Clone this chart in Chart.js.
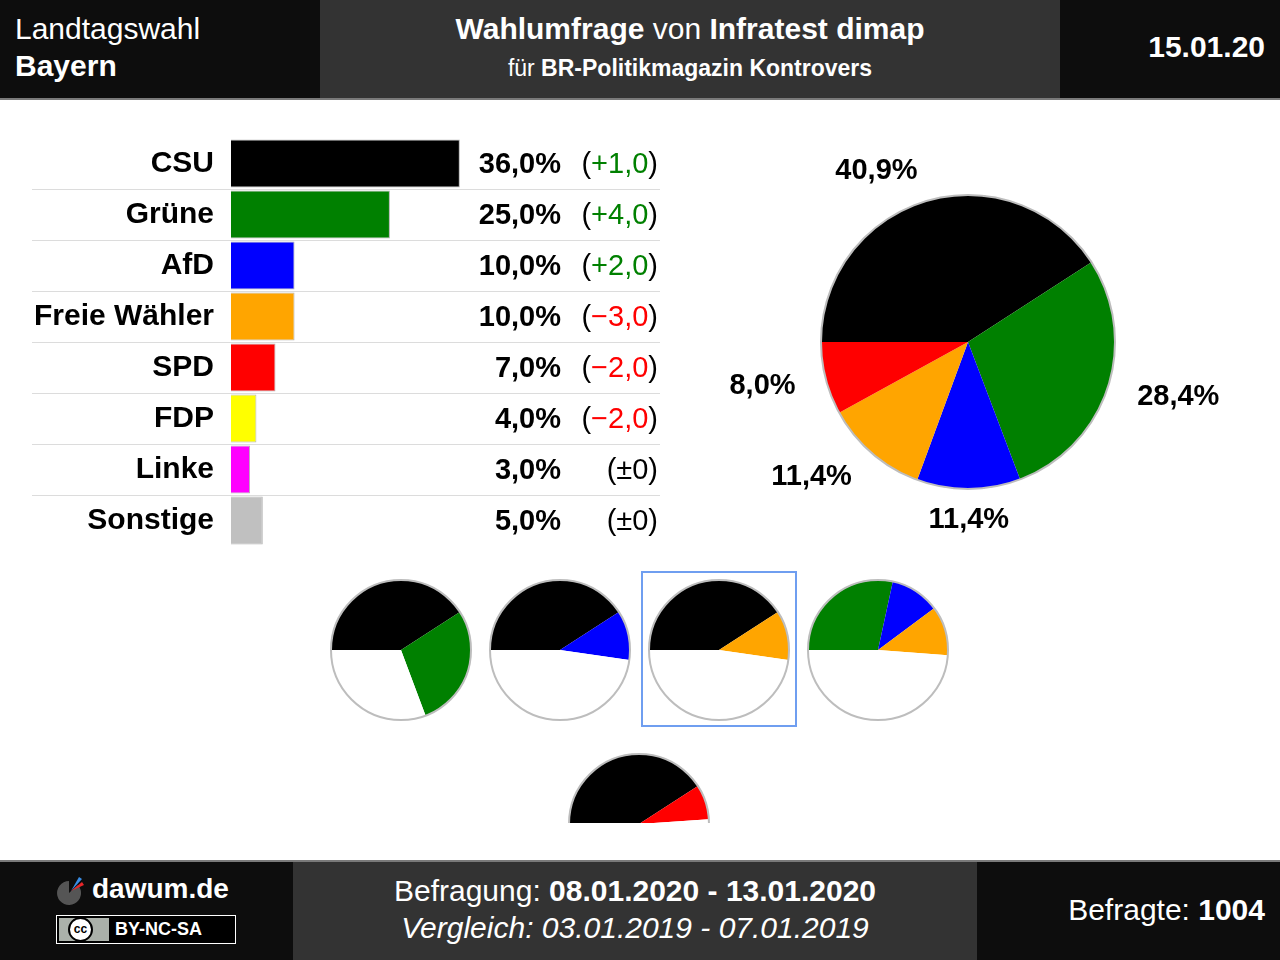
<!DOCTYPE html>
<html>
<head>
<meta charset="utf-8">
<script src="https://cdn.jsdelivr.net/npm/chart.js@4/dist/chart.umd.min.js"></script>
<style>
  body { margin: 0; width: 1280px; height: 960px; background: #fff; position: relative; overflow: hidden;
         font-family: "Liberation Sans", Arial, sans-serif; }
  .blk { position: absolute; color: #fff; }
  .dark { background: #0d0d0d; }
  .mid { background: #333; }
  .line { position: absolute; left: 0; width: 1280px; height: 2px; background: #7a7a7a; }
  .txt { position: absolute; white-space: nowrap; }
  b { font-weight: bold; }
  canvas { position: absolute; }
</style>
</head>
<body>
<!-- header -->
<div class="blk dark" style="left:0;top:0;width:320px;height:98px;">
  <div class="txt" style="left:15px;top:12px;font-size:30px;">Landtagswahl</div>
  <div class="txt" style="left:15px;top:49px;font-size:30px;font-weight:bold;">Bayern</div>
</div>
<div class="blk mid" style="left:320px;top:0;width:740px;height:98px;">
  <div class="txt" style="left:0;width:740px;text-align:center;top:12px;font-size:30px;"><b>Wahlumfrage</b> von <b>Infratest dimap</b></div>
  <div class="txt" style="left:0;width:740px;text-align:center;top:55px;font-size:23px;">für <b>BR-Politikmagazin Kontrovers</b></div>
</div>
<div class="blk dark" style="left:1060px;top:0;width:220px;height:98px;">
  <div class="txt" style="right:15px;top:30px;font-size:30px;font-weight:bold;">15.01.20</div>
</div>
<div class="line" style="top:98px;"></div>

<!-- charts (bar canvas is 70px taller: the y axis keeps 35px label padding on each end) -->
<canvas id="barChart" width="676" height="478" style="left:0;top:103px;"></canvas>
<canvas id="seatChart" width="536" height="404" style="left:700px;top:140px;"></canvas>
<div id="coalBox" style="position:absolute;left:0;top:560px;width:1280px;height:263px;overflow:hidden;"></div>

<!-- footer -->
<div class="line" style="top:860px;"></div>
<div class="blk dark" style="left:0;top:862px;width:293px;height:98px;">
  <svg style="position:absolute;left:52px;top:12px;" width="36" height="36" viewBox="0 0 36 36">
    <path d="M17 19 L26 11 A12 12 0 1 1 17 7 Z" fill="#555"/>
    <path d="M19 17 L27 3 L30 5 Z" fill="#3a8ee6"/>
    <path d="M19 17 L30 8 L32 11 Z" fill="#e8262a"/>
  </svg>
  <div class="txt" style="left:92px;top:11px;font-size:28px;font-weight:bold;">dawum.de</div>
  <div style="position:absolute;left:56px;top:53px;width:178px;height:27px;border:1px solid #fff;background:#000;">
    <div style="position:absolute;left:2px;top:2px;width:50px;height:23px;background:#abb1aa;"></div>
    <div style="position:absolute;left:11px;top:1px;width:21px;height:21px;border:2px solid #000;border-radius:50%;background:#fff;color:#000;font-size:12px;font-weight:bold;text-align:center;line-height:21px;">cc</div>
    <div class="txt" style="left:58px;top:3px;font-size:18px;font-weight:bold;color:#fff;">BY-NC-SA</div>
  </div>
</div>
<div class="blk mid" style="left:293px;top:862px;width:684px;height:98px;">
  <div class="txt" style="left:0;width:684px;text-align:center;top:12px;font-size:30px;">Befragung: <b>08.01.2020 - 13.01.2020</b></div>
  <div class="txt" style="left:0;width:684px;text-align:center;top:49px;font-size:30px;font-style:italic;">Vergleich: 03.01.2019 - 07.01.2019</div>
</div>
<div class="blk dark" style="left:977px;top:862px;width:303px;height:98px;">
  <div class="txt" style="right:15px;top:31px;font-size:30px;">Befragte: <b>1004</b></div>
</div>

<script>
  // poll results
  const parties = ['CSU', 'Grüne', 'AfD', 'Freie Wähler', 'SPD', 'FDP', 'Linke', 'Sonstige'];
  const results = [36, 25, 10, 10, 7, 4, 3, 5];
  const changes = [1, 4, 2, -3, -2, -2, 0, 0];
  const partyColors = ['#000000', '#008000', '#0000ff', '#ffa500', '#ff0000', '#ffff00', '#ff00ff', '#c0c0c0'];

  // seat distribution
  const seatParties = ['CSU', 'Grüne', 'AfD', 'Freie Wähler', 'SPD'];
  const seatShares = [40.9, 28.4, 11.4, 11.4, 8.0];

  // coalitions shown as small pies
  const coalitions = [
    ['CSU', 'Grüne'],
    ['CSU', 'AfD'],
    ['CSU', 'Freie Wähler'],
    ['Grüne', 'AfD', 'Freie Wähler'],
    ['CSU', 'SPD']
  ];
  const highlighted = 2;

  const FONT = '"Liberation Sans", Arial, sans-serif';
  const fmt = v => v.toFixed(1).replace('.', ',');
  const colorOf = p => partyColors[parties.indexOf(p)];

  Chart.defaults.color = '#000';
  Chart.defaults.font.family = FONT;

  // row lines + value/change texts
  const barTexts = {
    id: 'barTexts',
    beforeDatasetsDraw(chart) {
      const ctx = chart.ctx;
      const y = chart.scales.y;
      ctx.save();
      ctx.strokeStyle = '#dcdcdc';
      ctx.lineWidth = 1;
      for (let i = 0; i < parties.length - 1; i++) {
        const yy = Math.round((y.getPixelForValue(i) + y.getPixelForValue(i + 1)) / 2) + 0.5;
        ctx.beginPath();
        ctx.moveTo(32, yy);
        ctx.lineTo(660, yy);
        ctx.stroke();
      }
      ctx.restore();
    },
    afterDatasetsDraw(chart) {
      const ctx = chart.ctx;
      const y = chart.scales.y;
      ctx.save();
      ctx.textBaseline = 'middle';
      parties.forEach((p, i) => {
        const yy = y.getPixelForValue(i) + 1;
        ctx.font = 'bold 29px ' + FONT;
        ctx.fillStyle = '#000';
        ctx.textAlign = 'right';
        ctx.fillText(fmt(results[i]) + '%', 561, yy);

        const c = changes[i];
        let inner, col;
        if (c > 0) { inner = '+' + fmt(c); col = '#008000'; }
        else if (c < 0) { inner = '\u2212' + fmt(-c); col = '#ff0000'; }
        else { inner = '±0'; col = '#000'; }
        ctx.font = '29px ' + FONT;
        let x = 658;
        ctx.fillStyle = '#000';
        ctx.fillText(')', x, yy);
        x -= ctx.measureText(')').width;
        ctx.fillStyle = col;
        ctx.fillText(inner, x, yy);
        x -= ctx.measureText(inner).width;
        ctx.fillStyle = '#000';
        ctx.fillText('(', x, yy);
      });
      ctx.restore();
    }
  };

  new Chart(document.getElementById('barChart'), {
    type: 'bar',
    data: {
      labels: parties,
      datasets: [{
        data: results,
        backgroundColor: partyColors,
        borderColor: '#b4b4b4',
        borderWidth: 1,
        barPercentage: 0.94,
        categoryPercentage: 1
      }]
    },
    options: {
      indexAxis: 'y',
      responsive: false,
      maintainAspectRatio: false,
      animation: false,
      layout: { padding: 0 },
      plugins: { legend: { display: false }, tooltip: { enabled: false } },
      scales: {
        x: { display: false, min: 0, max: 70 },
        y: {
          grid: { display: false, drawTicks: false },
          border: { display: false },
          ticks: { padding: 17, font: { size: 30, weight: 'bold', family: FONT }, color: '#000' },
          afterFit(scale) { scale.width = 231; }
        }
      }
    },
    plugins: [barTexts]
  });

  // gray ring round a pie
  const pieRing = {
    id: 'pieRing',
    afterDatasetsDraw(chart) {
      const arc = chart.getDatasetMeta(0).data[0];
      if (!arc) return;
      const ctx = chart.ctx;
      ctx.save();
      ctx.strokeStyle = '#bdbdbd';
      ctx.lineWidth = 2;
      ctx.beginPath();
      ctx.arc(arc.x, arc.y, arc.outerRadius, 0, Math.PI * 2);
      ctx.stroke();
      ctx.restore();
    }
  };

  // percentage labels outside the seat pie
  const seatLabels = {
    id: 'seatLabels',
    afterDatasetsDraw(chart) {
      const ctx = chart.ctx;
      ctx.save();
      ctx.font = 'bold 29px ' + FONT;
      ctx.fillStyle = '#000';
      ctx.textBaseline = 'middle';
      chart.getDatasetMeta(0).data.forEach((arc, i) => {
        const mid = (arc.startAngle + arc.endAngle) / 2;
        const d = arc.outerRadius + 31;
        const cx = Math.cos(mid), sy = Math.sin(mid);
        ctx.textAlign = cx > 0.15 ? 'left' : (cx < -0.15 ? 'right' : 'center');
        ctx.fillText(fmt(seatShares[i]) + '%', arc.x + cx * d, arc.y + sy * d);
      });
      ctx.restore();
    }
  };

  new Chart(document.getElementById('seatChart'), {
    type: 'pie',
    data: {
      labels: seatParties,
      datasets: [{ data: seatShares, backgroundColor: seatParties.map(colorOf), borderWidth: 0 }]
    },
    options: {
      responsive: false,
      maintainAspectRatio: false,
      animation: false,
      rotation: -90,
      layout: { padding: 55 },
      plugins: { legend: { display: false }, tooltip: { enabled: false } }
    },
    plugins: [pieRing, seatLabels]
  });

  // coalition pies
  const box = document.getElementById('coalBox');
  coalitions.forEach((members, k) => {
    const col = k % 4, row = Math.floor(k / 4);
    const left = row === 0 ? 323 + col * 159 : 561;
    const top = row === 0 ? 12 : 186;
    const cv = document.createElement('canvas');
    cv.width = 156; cv.height = 156;
    cv.style.left = left + 'px';
    cv.style.top = top + 'px';
    box.appendChild(cv);
    if (k === highlighted) {
      const hl = document.createElement('div');
      hl.style.cssText = 'position:absolute;left:' + (left) + 'px;top:' + (top - 1) +
        'px;width:152px;height:152px;border:2px solid #6f9ef0;';
      box.appendChild(hl);
    }
    const vals = members.map(p => seatShares[seatParties.indexOf(p)]);
    const rest = 100 - vals.reduce((a, b) => a + b, 0);
    new Chart(cv, {
      type: 'pie',
      data: {
        labels: members.concat(['Rest']),
        datasets: [{ data: vals.concat([rest]), backgroundColor: members.map(colorOf).concat(['#ffffff']), borderWidth: 0 }]
      },
      options: {
        responsive: false,
        maintainAspectRatio: false,
        animation: false,
        rotation: -90,
        layout: { padding: 8 },
        plugins: { legend: { display: false }, tooltip: { enabled: false } }
      },
      plugins: [pieRing]
    });
  });
</script>
</body>
</html>
